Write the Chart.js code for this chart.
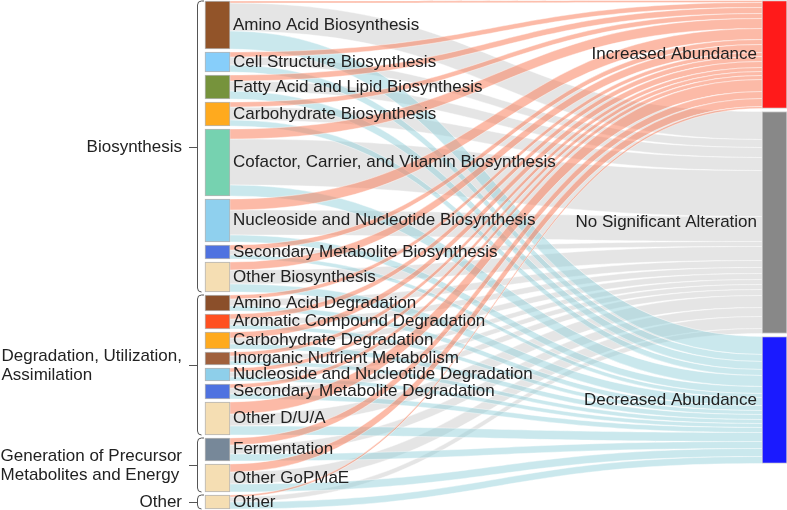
<!DOCTYPE html>
<html>
<head>
<meta charset="utf-8">
<script src="https://cdn.jsdelivr.net/npm/chart.js@4.4.0/dist/chart.umd.min.js"></script>
<style>
  body { margin: 0; background: #fff; }
  #wrap { width: 787px; height: 510px; position: relative; }
</style>
</head>
<body>
<div id="wrap"><canvas id="sankey"></canvas></div>
<script>
// pathway classes (left column)
const pathways = [
  "Amino Acid Biosynthesis",
  "Cell Structure Biosynthesis",
  "Fatty Acid and Lipid Biosynthesis",
  "Carbohydrate Biosynthesis",
  "Cofactor, Carrier, and Vitamin Biosynthesis",
  "Nucleoside and Nucleotide Biosynthesis",
  "Secondary Metabolite Biosynthesis",
  "Other Biosynthesis",
  "Amino Acid Degradation",
  "Aromatic Compound Degradation",
  "Carbohydrate Degradation",
  "Inorganic Nutrient Metabolism",
  "Nucleoside and Nucleotide Degradation",
  "Secondary Metabolite Degradation",
  "Other D/U/A",
  "Fermentation",
  "Other GoPMaE",
  "Other"
];
const pathwayColors = [
  "#925429", "#87cefa", "#76933c", "#ffaa1e", "#76d2b0", "#8fd0ee",
  "#4f72e0", "#f5deb3", "#8b4f2a", "#ff5020", "#ffaa1e", "#a0603c",
  "#8ecfea", "#4f72e0", "#f5deb3", "#778899", "#f5deb3", "#f5deb3"
];

// outcomes (right column)
const outcomes = ["Increased Abundance", "No Significant Alteration", "Decreased Abundance"];
const outcomeColors = ["#ff1a1a", "#888888", "#1a1aff"];
const linkColors = ["rgba(250,130,95,0.55)", "rgba(190,190,190,0.4)", "rgba(150,210,220,0.5)"];

// flow sizes per pathway class
const increased = [2, 5, 6, 5, 10, 11, 5, 8, 4, 5, 6, 4, 4, 4, 12, 7, 8, 2];
const noChange  = [28, 8, 10, 13, 46, 25, 5, 14, 7, 6, 6, 5, 5, 6, 12, 9, 12, 5];
const decreased = [18, 7, 8, 6, 11, 7, 4, 8, 5, 4, 5, 4, 4, 5, 9, 7, 8, 7];

// brackets on the left
const groups = [
  { label: ["Biosynthesis"], first: 0, last: 7 },
  { label: ["Degradation, Utilization,", "Assimilation"], first: 8, last: 14 },
  { label: ["Generation of Precursor", "Metabolites and Energy"], first: 15, last: 16 },
  { label: ["Other"], first: 17, last: 17 }
];

const GAP = 3;
const NODE_W = 25;
const LEFT_X = 217.5;
const RIGHT_X = 774.5;
const FONT = '17px "Liberation Sans", Arial, sans-serif';

const series = [increased, noChange, decreased];
const totals = pathways.map((_, i) => increased[i] + noChange[i] + decreased[i]);
const outTotals = series.map(s => s.reduce((a, b) => a + b, 0));

const leftTop = [];
let yy = 1;
totals.forEach(t => { leftTop.push(yy); yy += t + GAP; });
const rightTop = [];
yy = 0.5;
outTotals.forEach(t => { rightTop.push(yy); yy += t + GAP; });

// link bands in value space
const links = [];
const tOff = rightTop.slice();
const sOff = leftTop.slice();
for (let i = 0; i < pathways.length; i++) {
  for (let k = 0; k < 3; k++) {
    const v = series[k][i];
    if (!v) continue;
    links.push({ k, a0: sOff[i], a1: sOff[i] + v, b0: tOff[k], b1: tOff[k] + v });
    sOff[i] += v;
    tOff[k] += v;
  }
}

const linkPlugin = {
  id: "links",
  beforeDatasetsDraw(chart) {
    const { ctx, scales: { x, y } } = chart;
    const x0 = x.getPixelForValue(LEFT_X + NODE_W / 2);
    const x1 = x.getPixelForValue(RIGHT_X - NODE_W / 2);
    const xm = (x0 + x1) / 2;
    ctx.save();
    [1, 2, 0].forEach(k => {
      links.filter(l => l.k === k).forEach(l => {
        const a0 = y.getPixelForValue(l.a0), a1 = y.getPixelForValue(l.a1);
        const b0 = y.getPixelForValue(l.b0), b1 = y.getPixelForValue(l.b1);
        ctx.beginPath();
        ctx.moveTo(x0, a0);
        ctx.bezierCurveTo(xm, a0, xm, b0, x1, b0);
        ctx.lineTo(x1, b1);
        ctx.bezierCurveTo(xm, b1, xm, a1, x0, a1);
        ctx.closePath();
        ctx.fillStyle = linkColors[k];
        ctx.fill();
        ctx.strokeStyle = "rgba(255,255,255,0.7)";
        ctx.lineWidth = 0.6;
        ctx.stroke();
      });
    });
    ctx.restore();
  },
  afterDatasetsDraw(chart) {
    const { ctx, scales: { x, y } } = chart;
    ctx.save();
    ctx.font = FONT;
    ctx.fillStyle = "#222";
    ctx.textBaseline = "middle";

    // node labels
    ctx.textAlign = "left";
    const lx = x.getPixelForValue(LEFT_X + NODE_W / 2) + 3;
    pathways.forEach((p, i) => {
      ctx.fillText(p, lx, y.getPixelForValue(leftTop[i] + totals[i] / 2));
    });
    ctx.textAlign = "right";
    const rx = x.getPixelForValue(RIGHT_X - NODE_W / 2) - 5;
    outcomes.forEach((o, k) => {
      ctx.fillText(o, rx, y.getPixelForValue(rightTop[k] + outTotals[k] / 2));
    });

    // brackets and group labels
    ctx.strokeStyle = "#555";
    ctx.lineWidth = 1;
    const bx = 197.5, ex = 204, r = 4;
    groups.forEach(g => {
      const top = y.getPixelForValue(leftTop[g.first]);
      const bot = y.getPixelForValue(leftTop[g.last] + totals[g.last]);
      const mid = Math.round((top + bot) / 2) + 0.5;
      ctx.beginPath();
      ctx.moveTo(ex, top);
      ctx.arcTo(bx, top, bx, top + r, r);
      ctx.lineTo(bx, bot - r);
      ctx.arcTo(bx, bot, ex, bot, r);
      ctx.moveTo(bx, mid);
      ctx.lineTo(189, mid);
      ctx.stroke();

      const w = Math.max(...g.label.map(s => ctx.measureText(s).width));
      const lh = 19;
      ctx.textAlign = "left";
      g.label.forEach((s, j) => {
        ctx.fillText(s, Math.max(0, 182 - w), mid + (j - (g.label.length - 1) / 2) * lh);
      });
    });
    ctx.restore();
  }
};

const ctx = document.getElementById("sankey").getContext("2d");
const mySankey = new Chart(ctx, {
  type: "bar",
  data: {
    datasets: [
      {
        label: "Pathway class",
        data: pathways.map((_, i) => ({ x: LEFT_X, y: [leftTop[i], leftTop[i] + totals[i]] })),
        backgroundColor: pathwayColors,
        borderColor: "rgba(150,150,150,0.7)",
        borderWidth: 1,
        borderSkipped: false,
        barThickness: NODE_W,
        grouped: false
      },
      {
        label: "Outcome",
        data: outcomes.map((_, k) => ({ x: RIGHT_X, y: [rightTop[k], rightTop[k] + outTotals[k]] })),
        backgroundColor: outcomeColors,
        borderColor: "rgba(200,200,200,0.8)",
        borderWidth: 1,
        borderSkipped: false,
        barThickness: NODE_W,
        grouped: false
      }
    ]
  },
  options: {
    responsive: true,
    maintainAspectRatio: false,
    animation: false,
    layout: { padding: 0 },
    plugins: { legend: { display: false }, tooltip: { enabled: false } },
    scales: {
      x: { type: "linear", min: 0, max: 787, offset: false, display: false },
      y: { type: "linear", min: 0, max: 510, reverse: true, display: false }
    }
  },
  plugins: [linkPlugin]
});
</script>
</body>
</html>
